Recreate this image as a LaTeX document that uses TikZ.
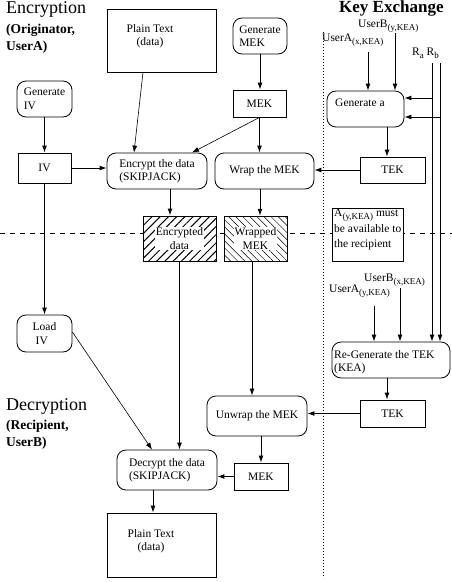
\documentclass[tikz,border=0pt]{standalone}
\usepackage{fontspec}
\setmainfont{Liberation Serif}
\usetikzlibrary{arrows.meta,patterns.meta}
\newcommand\sbs[1]{\raisebox{-3pt}{\fontsize{9}{10}\selectfont #1}}
\begin{document}
\begin{tikzpicture}[x=1pt,y=-1pt,
  font=\fontsize{11.5}{13.5}\selectfont,
  box/.style={draw, line width=0.8pt, fill=white, inner sep=0pt},
  rbox/.style={box, rounded corners=9pt},
  hbox/.style={draw, line width=0.8pt, inner sep=0pt, preaction={fill=white}},
  arr/.style={-{Latex[length=7pt,width=5pt]}, line width=1pt},
  thinarr/.style={-{Latex[length=7pt,width=5pt]}, line width=0.6pt},
  lbl/.style={inner sep=0pt, align=left},
  dotline/.style={dash pattern=on 1pt off 2pt, line width=0.8pt},
  dashline/.style={dash pattern=on 5pt off 5pt, line width=0.8pt}]
\useasboundingbox (0,0) rectangle (452,582);

% separators
\draw[dashline] (0,233) -- (452,233);
\draw[dotline] (323,32) -- (323,578);

% titles
\node[lbl, anchor=north west, font=\fontsize{18}{20}\selectfont] (tenc) at (6,1) {Encryption};
\node[lbl, anchor=north west, font=\bfseries\fontsize{13.5}{17}\selectfont] (tor) at (6,24) {(Originator,\\UserA)};
\node[lbl, anchor=north west, font=\bfseries\fontsize{17}{19}\selectfont] (tke) at (339,1) {Key Exchange};
\node[lbl, anchor=north west, font=\fontsize{18}{20}\selectfont] (tdec) at (6,398) {Decryption};
\node[lbl, anchor=north west, font=\bfseries\fontsize{13.5}{17}\selectfont] (trc) at (6,420) {(Recipient,\\UserB)};

% key exchange labels
\node[lbl, anchor=base west] (luby) at (358,27) {UserB\sbs{(y,KEA)}};
\node[lbl, anchor=base west] (luax) at (322,41) {UserA\sbs{(x,KEA)}};
\node[lbl, anchor=base west] (lrab) at (412,55) {R\sbs{a} R\sbs{b}};
\node[lbl, anchor=base west] (lubx) at (364,281) {UserB\sbs{(x,KEA)}};
\node[lbl, anchor=base west] (luay) at (329,292) {UserA\sbs{(y,KEA)}};

% encryption boxes
\node[box, minimum width=109, minimum height=63] (pt1) at (161.5,40.5) {};
\node[lbl, align=center] (pt1t) at (150,36) {Plain Text\\(data)};
\node[rbox, minimum width=54, minimum height=36, align=left] (genmek) at (260,36) {Generate\\MEK};
\node[box, minimum width=53, minimum height=27] (mek1) at (259.5,103.5) {MEK};
\node[rbox, minimum width=55, minimum height=36, align=left] (geniv) at (44.5,99) {Generate\\IV};
\node[box, minimum width=53, minimum height=30] (iv) at (44.5,168) {IV};
\node[rbox, minimum width=100, minimum height=36, align=left] (enc) at (157,171) {Encrypt the data\\(SKIPJACK)};
\node[rbox, minimum width=99, minimum height=36] (wrap) at (264.5,171) {Wrap the MEK};
\node[hbox, pattern={Lines[angle=45,distance=5.8pt,line width=1pt]}, minimum width=73, minimum height=45] (encd) at (179.5,238.5) {};
\node[fill=white, inner sep=1pt, align=center] (encdt) at (encd) {Encrypted\\data};
\node[hbox, pattern={Lines[angle=-45,distance=5pt,line width=0.5pt]}, minimum width=63, minimum height=45] (wmek) at (255.5,238.5) {};
\node[fill=white, inner sep=1pt, align=center] (wmekt) at (wmek) {Wrapped\\MEK};

% key exchange boxes
\node[rbox, minimum width=77, minimum height=36] (gena) at (365.5,109) {};
\node[lbl, anchor=base west] (genat) at (335,106) {Generate a};
\node[box, minimum width=65, minimum height=26] (tek1) at (392.5,170) {TEK};
\node[box, minimum width=71, minimum height=53] (note) at (367.5,234.5) {};
\node[lbl, anchor=north west, font=\fontsize{11.5}{15.5}\selectfont] (notet) at (334,209) {A\sbs{(y,KEA)} must\\be available to\\the recipient};
\node[rbox, minimum width=118, minimum height=36] (regen) at (391,360) {};
\node[lbl, anchor=north west] (regent) at (334,350) {Re-Generate the TEK\\(KEA)};
\node[box, minimum width=65, minimum height=27] (tek2) at (392.5,413.5) {TEK};

% decryption boxes
\node[rbox, minimum width=55, minimum height=37, align=left] (loadiv) at (44.5,333.5) {Load\\\hspace{3pt}IV};
\node[rbox, minimum width=100, minimum height=40] (unwrap) at (257,416) {Unwrap the MEK};
\node[box, minimum width=54, minimum height=27] (mek2) at (261,476.5) {MEK};
\node[rbox, minimum width=100, minimum height=40, align=left] (dec) at (167,470) {Decrypt the data\\(SKIPJACK)};
\node[box, minimum width=109, minimum height=64] (pt2) at (161.5,545) {};
\node[lbl, align=center] (pt2t) at (151,541) {Plain Text\\(data)};

% coordinates for free ends
\coordinate (uax) at (368,52);
\coordinate (uby) at (395,33);
\coordinate (ra) at (432,63);
\coordinate (rb) at (440,63);
\coordinate (ga1) at (432,98);
\coordinate (ga2) at (440,117);
\coordinate (uay) at (374,306);
\coordinate (ubx) at (400,288);

% encryption connectors
\draw[arr] (genmek.south) -- (genmek.south |- mek1.north);
\draw[arr] (geniv.south) -- (geniv.south |- iv.north);
\draw[arr] (iv.east) -- (iv.east -| enc.west);
\draw[thinarr] ([xshift=-18.5pt]pt1.south) -- ([xshift=-23pt]enc.north);
\draw[thinarr] (mek1.south) -- ([xshift=35pt]enc.north);
\draw[arr] (mek1.south) -- (mek1.south |- wrap.north);
\draw[arr] ([xshift=13pt]enc.south) -- ([xshift=13pt]enc.south |- encd.north);
\draw[arr] ([xshift=-4.5pt]wrap.south) -- ([xshift=-4.5pt]wrap.south |- wmek.north);

% key exchange connectors
\draw[arr] (uax) -- (uax |- gena.north);
\draw[arr] (uby) -- (uby |- gena.north);
\draw[arr] (ra) -- (ra |- regen.north);
\draw[arr] (rb) -- (rb |- regen.north);
\draw[arr] (ga1) -- (ga1 -| gena.east);
\draw[arr] (ga2) -- (ga2 -| gena.east);
\draw[arr] ([xshift=21.5pt]gena.south) -- ([xshift=21.5pt]gena.south |- tek1.north);
\draw[arr] (tek1.west) -- (tek1.west -| wrap.east);
\draw[arr] (uay) -- (uay |- regen.north);
\draw[arr] (ubx) -- (ubx |- regen.north);
\draw[arr] ([xshift=-4pt]regen.south) -- ([xshift=-4pt]regen.south |- tek2.north);
\draw[arr] (tek2.west) -- (tek2.west -| unwrap.east);

% decryption connectors
\draw[arr] (iv.south) -- (iv.south |- loadiv.north);
\draw[thinarr] ([yshift=1.5pt]loadiv.east) -- ([xshift=-15pt]dec.north);
\draw[arr] (encd.south) -- (encd.south |- dec.north);
\draw[arr] ([xshift=-3.5pt]wmek.south) -- ([xshift=-3.5pt]wmek.south |- unwrap.north);
\draw[arr] (mek2.north |- unwrap.south) -- (mek2.north);
\draw[arr] (mek2.west) -- (mek2.west -| dec.east);
\draw[arr] ([xshift=-14pt]dec.south) -- ([xshift=-14pt]dec.south |- pt2.north);
\end{tikzpicture}
\end{document}
